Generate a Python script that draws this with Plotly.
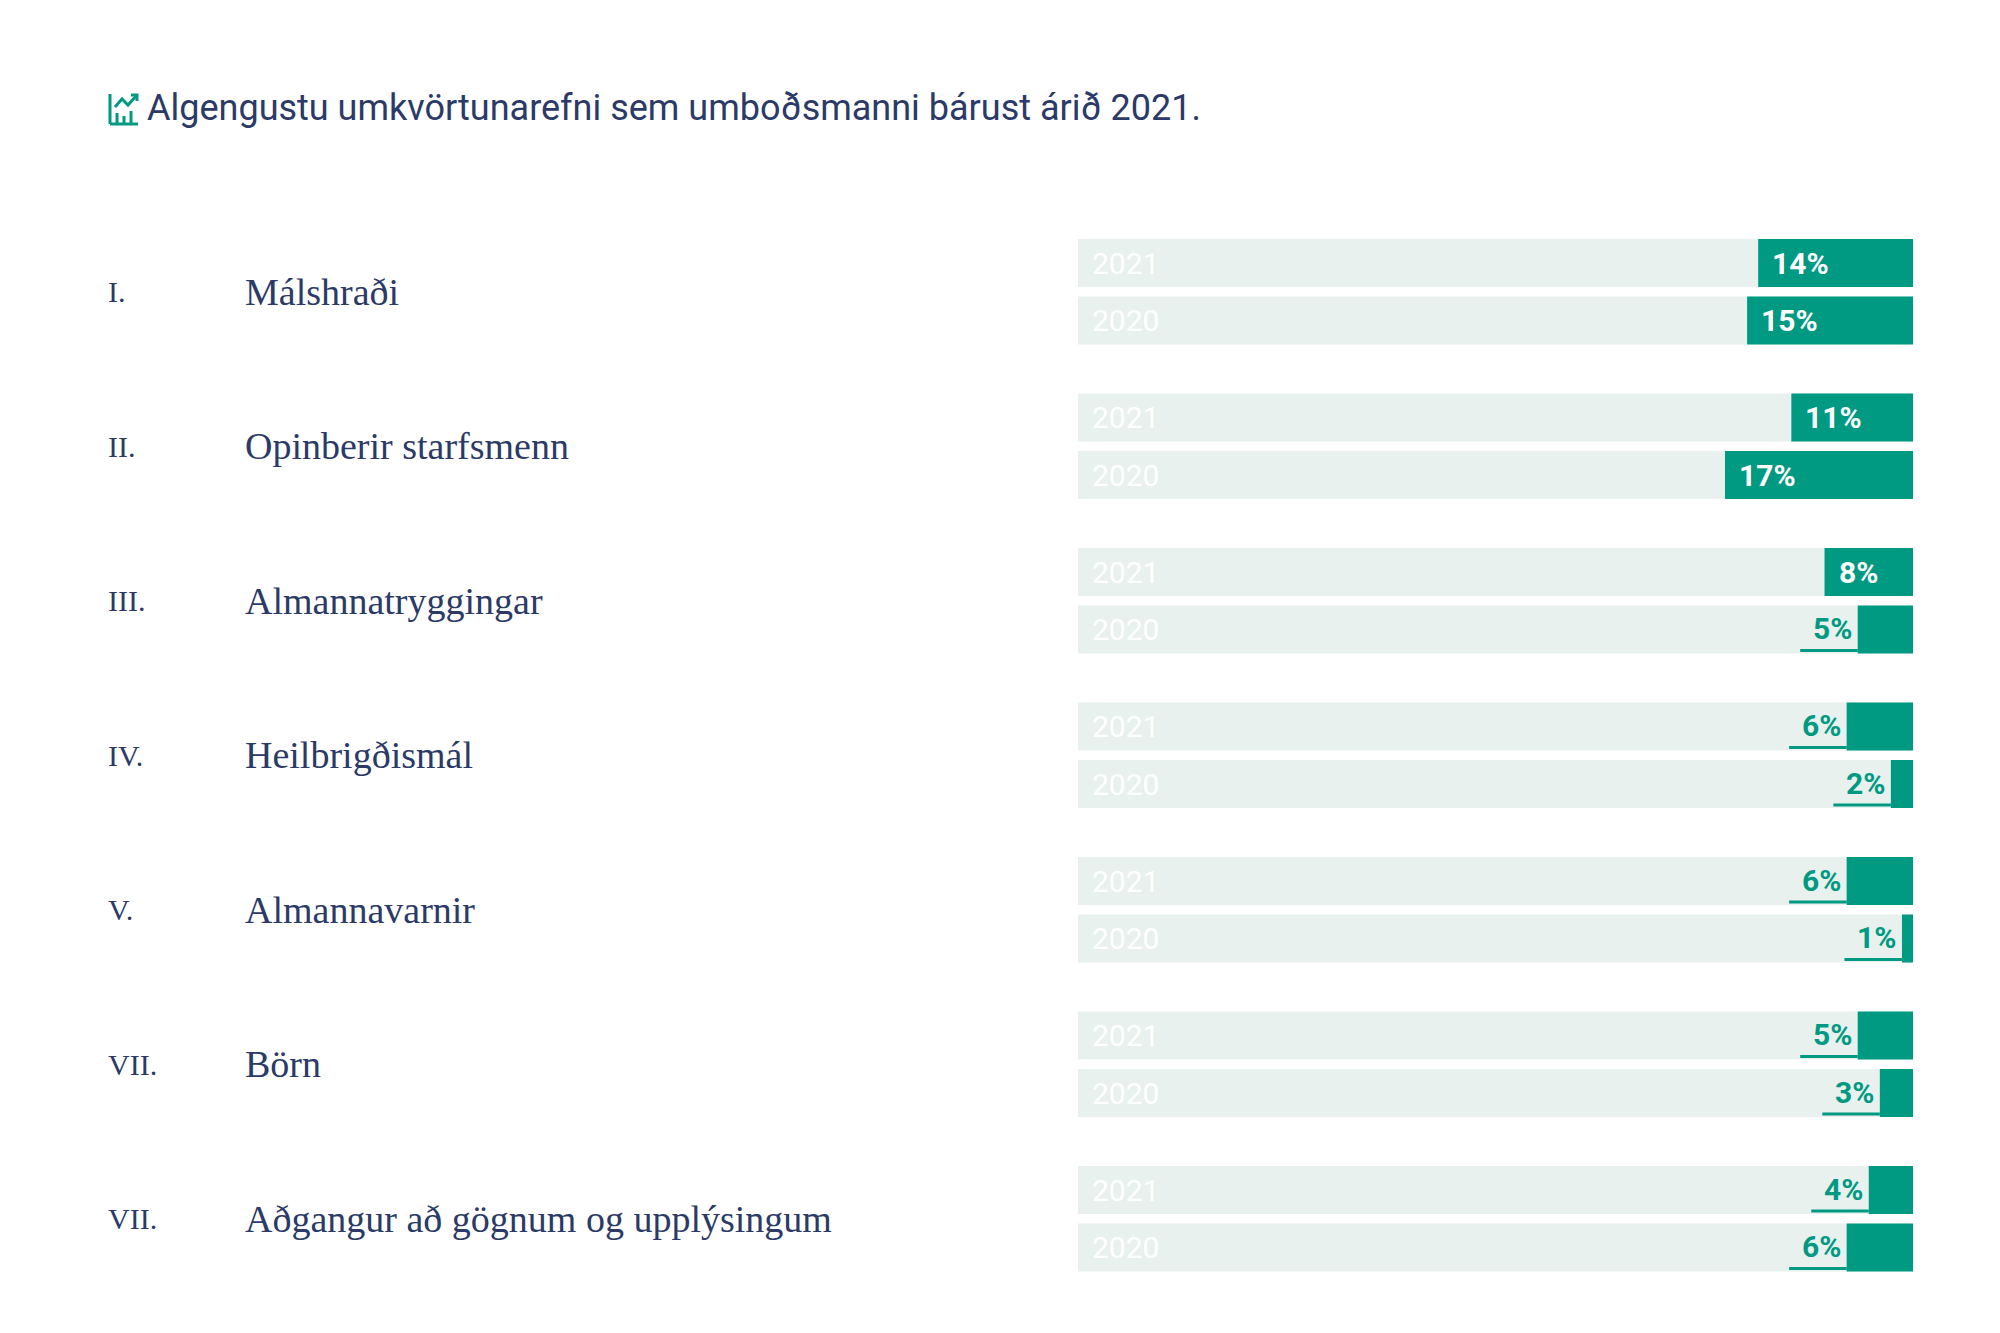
import plotly.graph_objects as go

W, H = 2000, 1333

numerals = ["I.", "II.", "III.", "IV.", "V.", "VII.", "VII."]
categories = ["Málshraði", "Opinberir starfsmenn", "Almannatryggingar", "Heilbrigðismál",
              "Almannavarnir", "Börn", "Aðgangur að gögnum og upplýsingum"]
years = ["2021", "2020"]
val_2021 = [14, 11, 8, 6, 6, 5, 4]
val_2020 = [15, 17, 5, 2, 1, 3, 6]

GREEN = "#009982"
TRACK = "#e8f1ee"
NAVY = "#2b3a67"
FULL = 75.5

# pixel layout
X0, X1 = 1070, 1905
Y_FIRST, PAIR, GROUP, BAR_H = 255, 57.5, 154.5, 48

fig = go.Figure()

ys, vals, labels = [], [], []
for i in range(len(categories)):
    for j, v in enumerate([val_2021[i], val_2020[i]]):
        ys.append(Y_FIRST + GROUP * i + PAIR * j)
        vals.append(v)
        labels.append(years[j])

fig.add_trace(go.Bar(x=[FULL] * len(ys), y=ys, orientation="h", width=BAR_H,
                     marker=dict(color=TRACK, line=dict(width=0)), hoverinfo="skip"))
fig.add_trace(go.Bar(x=vals, y=ys, orientation="h", width=BAR_H,
                     marker=dict(color=GREEN, line=dict(width=0)), hoverinfo="skip"))

annotations = []
shapes = []
for y, v, yr in zip(ys, vals, labels):
    annotations.append(dict(x=FULL, y=y, xref="x", yref="y", text=yr,
                            xanchor="left", xshift=12, showarrow=False,
                            font=dict(family="Roboto", size=30, color="white")))
    if v >= 8:
        annotations.append(dict(x=v, y=y, xref="x", yref="y", text=f"<b>{v}%</b>",
                                xanchor="left", xshift=12, showarrow=False,
                                font=dict(family="Roboto", size=30, color="white")))
    else:
        annotations.append(dict(x=v, y=y, xref="x", yref="y", text=f"<b>{v}%</b>",
                                xanchor="right", xshift=-4, yshift=1, showarrow=False,
                                font=dict(family="Roboto", size=30, color=GREEN)))
        shapes.append(dict(type="line", xref="x", yref="y", x0=v, x1=v + 5.2,
                           y0=y + 21, y1=y + 21, line=dict(color=GREEN, width=3)))

for i, (num, cat) in enumerate(zip(numerals, categories)):
    yc = Y_FIRST + GROUP * i + PAIR / 2
    annotations.append(dict(x=98 / W, y=yc, xref="paper", yref="y", text=num, xanchor="left",
                            showarrow=False, font=dict(family="Liberation Serif, DejaVu Serif", size=30, color=NAVY)))
    annotations.append(dict(x=235 / W, y=yc, xref="paper", yref="y", text=cat, xanchor="left",
                            showarrow=False, font=dict(family="Liberation Serif, DejaVu Serif", size=38, color=NAVY)))

annotations.append(dict(x=137 / W, y=100, xref="paper", yref="y",
                        text="Algengustu umkvörtunarefni sem umboðsmanni bárust árið 2021.",
                        xanchor="left", showarrow=False,
                        font=dict(family="Roboto", size=36, color=NAVY)))

# small chart icon next to title
icon = dict(xref="paper", yref="y", line=dict(color=GREEN, width=3))
def px(x):
    return x / W
shapes += [
    dict(type="line", x0=px(102), x1=px(102), y0=86, y1=116, **icon),
    dict(type="line", x0=px(102), x1=px(130), y0=116, y1=116, **icon),
    dict(type="line", x0=px(109), x1=px(109), y0=116, y1=105, **icon),
    dict(type="line", x0=px(116), x1=px(116), y0=116, y1=108, **icon),
    dict(type="line", x0=px(123), x1=px(123), y0=116, y1=103, **icon),
    dict(type="path", path=f"M {px(107)} 99 L {px(114)} 91 L {px(120)} 97 L {px(129)} 87",
         fillcolor="rgba(0,0,0,0)", **icon),
    dict(type="path", path=f"M {px(123)} 87 L {px(129)} 87 L {px(129)} 93",
         fillcolor="rgba(0,0,0,0)", **icon),
]

fig.update_layout(
    width=W, height=H, margin=dict(l=0, r=0, t=0, b=0),
    paper_bgcolor="white", plot_bgcolor="white",
    barmode="overlay", showlegend=False,
    xaxis=dict(domain=[X0 / W, X1 / W], range=[FULL, 0], visible=False, fixedrange=True),
    yaxis=dict(domain=[0, 1], range=[H, 0], visible=False),
    annotations=annotations, shapes=shapes,
)

fig.write_html("out.html")
